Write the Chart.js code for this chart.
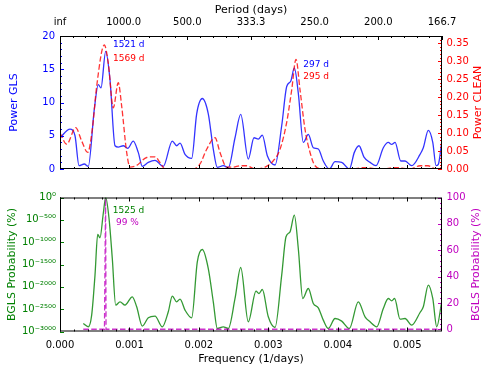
<!DOCTYPE html>
<html>
<head>
<meta charset="utf-8">
<script src="https://cdn.jsdelivr.net/npm/chart.js@4.4.1/dist/chart.umd.min.js"></script>
<style>
  html, body { margin: 0; padding: 0; background: #fff; }
  #wrap { position: relative; width: 491px; height: 372px; }
  canvas { position: absolute; left: 0; }
  #topChart { top: 0; }
  #bottomChart { top: 180px; }
</style>
</head>
<body>
<div id="wrap">
  <canvas id="topChart" width="491" height="180"></canvas>
  <canvas id="bottomChart" width="491" height="192"></canvas>
</div>
<script>
// frequencies are in units of 1e-3 1/days
const glsFreq = [0, 0.144, 0.216, 0.274, 0.350, 0.407, 0.494, 0.551, 0.590, 0.658, 0.720, 0.792, 0.839, 0.911, 0.975,
    1.055, 1.127, 1.185, 1.271, 1.368, 1.487, 1.617, 1.680, 1.728, 1.800, 1.896, 1.968, 2.049, 2.135, 2.207,
    2.265, 2.351, 2.423, 2.520, 2.602, 2.711, 2.793, 2.855, 2.913, 2.985, 3.096, 3.192, 3.264, 3.322, 3.374,
    3.431, 3.503, 3.575, 3.647, 3.719, 3.791, 3.878, 3.960, 4.056, 4.166, 4.238, 4.305, 4.377, 4.464, 4.550,
    4.655, 4.727, 4.776, 4.824, 4.906, 4.968, 5.064, 5.184, 5.231, 5.303, 5.367, 5.414, 5.447, 5.496];
const glsPower = [4.7, 6.0, 5.0, 0.5, 0.75, 0.4, 9.0, 12.7, 12.2, 17.7, 13.4, 3.5, 3.3, 3.5, 3.1,
    4.2, 2.5, 0.4, 1.0, 1.3, 0.4, 4.2, 3.5, 3.9, 2.2, 1.6, 8.3, 10.6, 8.3, 3.0,
    0.25, 0.5, 0.2, 4.7, 8.2, 1.5, 4.7, 4.5, 5.1, 2.0, 0.6, 6.5, 12.4, 13.2, 15.2,
    11.4, 4.0, 5.2, 3.2, 3.0, 1.2, 0, 1.1, 1.0, 0, 2.5, 3.5, 1.8, 1.0, 0.5,
    3.2, 4.0, 3.7, 4.0, 1.2, 1.2, 0.5, 2.2, 3.2, 5.8, 4.0, 0.5, 0.7, 4.0];

const cleanFreq = [0, 0.096, 0.226, 0.312, 0.399, 0.465, 0.528, 0.638, 0.695, 0.767, 0.839, 0.888, 0.960, 1.008, 1.104,
    1.248, 1.368, 1.440, 1.512, 1.728, 1.915, 2.016, 2.112, 2.232, 2.304, 2.400, 2.495, 2.592, 2.688, 2.808,
    2.952, 3.071, 3.168, 3.264, 3.336, 3.398, 3.456, 3.528, 3.600, 3.672, 3.791, 4.176, 4.392, 4.608, 4.848,
    5.040, 5.184, 5.299, 5.414, 5.500];
const cleanPower = [0.10, 0.069, 0.115, 0.078, 0.046, 0.11, 0.23, 0.345, 0.295, 0.17, 0.24, 0.175, 0.046, 0.005, 0.01,
    0.032, 0.034, 0.018, 0, 0, 0, 0.014, 0.055, 0.087, 0.046, 0.005, 0.005, 0.009, 0.009, 0,
    0.005, 0.023, 0.055, 0.13, 0.22, 0.305, 0.22, 0.11, 0.046, 0.009, 0, 0, 0.004, 0, 0.004,
    0, 0.009, 0.009, 0, 0.004];

const bglsFreq = [0.335, 0.407, 0.456, 0.504, 0.543, 0.576, 0.623, 0.658, 0.706, 0.753, 0.802, 0.864, 0.936, 1.041, 1.104,
    1.185, 1.271, 1.368, 1.473, 1.559, 1.617, 1.680, 1.728, 1.800, 1.896, 1.977, 2.049, 2.135, 2.207, 2.265,
    2.351, 2.423, 2.520, 2.602, 2.711, 2.822, 2.865, 2.913, 2.999, 3.096, 3.192, 3.254, 3.312, 3.374, 3.431,
    3.495, 3.575, 3.647, 3.719, 3.791, 3.863, 3.960, 4.056, 4.166, 4.295, 4.392, 4.464, 4.560, 4.655, 4.727,
    4.776, 4.818, 4.896, 4.968, 5.064, 5.184, 5.231, 5.303, 5.367, 5.424, 5.496];
// log10 of the probability
const bglsLogProb = [-2821, -2895, -2633, -1737, -828, -902, -358, 0, -470, -1366, -2409, -2335, -2409, -2223, -2447,
    -2879, -2693, -2655, -2895, -2559, -2207, -2335, -2275, -2521, -2693, -1440, -1164, -1590, -2335, -2933,
    -2895, -2933, -2261, -1567, -2783, -2096, -2149, -2060, -2671, -2910, -1737, -880, -768, -394, -1142,
    -2261, -2037, -2373, -2470, -2745, -2933, -2709, -2767, -2933, -2335, -2671, -2783, -2895, -2485, -2261,
    -2313, -2261, -2723, -2709, -2857, -2575, -2447, -1961, -2261, -2895, -2335];

const probFreq = [0.335, 0.640, 0.656, 0.663, 5.5];
const probPct = [0, 0, 99, 0, 0];

const freqTicks = [0, 1, 2, 3, 4, 5];
const freqLabels = ['0.000', '0.001', '0.002', '0.003', '0.004', '0.005'];
const periodTicks = [0, 1, 2, 3, 4, 5, 6];
const periodLabels = ['inf', '1000.0', '500.0', '333.3', '250.0', '200.0', '166.7'];
const glsTicks = [0, 5, 10, 15, 20];
const cleanTicks = [0, 0.05, 0.10, 0.15, 0.20, 0.25, 0.30, 0.35];
const logTicks = [-3000, -2500, -2000, -1500, -1000, -500, 0];
const logLabels = ['10⁻³⁰⁰⁰', '10⁻²⁵⁰⁰', '10⁻²⁰⁰⁰', '10⁻¹⁵⁰⁰', '10⁻¹⁰⁰⁰', '10⁻⁵⁰⁰', '10⁰'];
const pctTicks = [0, 20, 40, 60, 80, 100];

const topNotes = [
    { text: '1521 d', f: 0.763, v: 18.66, axis: 'y', color: '#0000ff' },
    { text: '1569 d', f: 0.763, v: 16.57, axis: 'y', color: '#ff0000' },
    { text: '297 d', f: 3.503, v: 15.67, axis: 'y', color: '#0000ff' },
    { text: '295 d', f: 3.503, v: 13.84, axis: 'y', color: '#ff0000' }
];
const bottomNotes = [
    { text: '1525 d', f: 0.759, v: -291, axis: 'yL', color: '#008000' },
    { text: '99 %', f: 0.806, v: -573, axis: 'yL', color: '#bf00bf' }
];

const BLUE = '#0000ff', RED = '#ff0000', GREEN = '#008000', MAGENTA = '#bf00bf';

Chart.defaults.font.family = '"DejaVu Sans", sans-serif';
Chart.defaults.font.size = 10;
Chart.defaults.color = '#000';

function pts(xs, ys) {
    return xs.map((x, i) => ({ x: x, y: ys[i] }));
}

function fixedTicks(values) {
    return s => { s.ticks = values.map(v => ({ value: v })); };
}

// matplotlib-like frame, inward ticks, notes and right-hand titles
const framePlugin = {
    id: 'frame',
    afterDatasetsDraw(chart, args, opts) {
        const { ctx, chartArea: a } = chart;
        ctx.save();
        ctx.lineWidth = 1;
        (opts.marks || []).forEach(m => {
            const s = chart.scales[m.scale];
            ctx.strokeStyle = m.color;
            const draw = (v, len) => {
                const p = Math.round(s.getPixelForValue(v)) + 0.5;
                ctx.beginPath();
                m.edges.forEach(e => {
                    if (e === 'bottom') { ctx.moveTo(p, a.bottom); ctx.lineTo(p, a.bottom - len); }
                    if (e === 'top') { ctx.moveTo(p, a.top); ctx.lineTo(p, a.top + len); }
                    if (e === 'left') { ctx.moveTo(a.left, p); ctx.lineTo(a.left + len, p); }
                    if (e === 'right') { ctx.moveTo(a.right, p); ctx.lineTo(a.right - len, p); }
                });
                ctx.stroke();
            };
            if (m.minor) {
                for (let k = Math.ceil(s.min / m.minor - 1e-6); k * m.minor <= s.max + 1e-9; k++) draw(k * m.minor, 2);
            }
            s.ticks.forEach(t => draw(t.value, 4));
        });
        ctx.strokeStyle = '#000';
        ctx.strokeRect(a.left + 0.5, a.top + 0.5, a.width - 1, a.height - 1);

        ctx.font = '9px "DejaVu Sans"';
        ctx.textBaseline = 'middle';
        ctx.textAlign = 'left';
        (opts.notes || []).forEach(n => {
            ctx.fillStyle = n.color;
            ctx.fillText(n.text, chart.scales.x.getPixelForValue(n.f), chart.scales[n.axis].getPixelForValue(n.v));
        });

        if (opts.rightTitle) {
            ctx.font = '11px "DejaVu Sans"';
            ctx.textAlign = 'center';
            ctx.fillStyle = opts.rightTitle.color;
            ctx.translate(opts.rightTitle.x, (a.top + a.bottom) / 2);
            ctx.rotate(-Math.PI / 2);
            ctx.fillText(opts.rightTitle.text, 0, 0);
        }
        ctx.restore();
    }
};

function lineSet(data, color, axis, dashed) {
    return {
        data: data,
        borderColor: color,
        borderWidth: 1.3,
        borderDash: dashed ? [5.5, 2.5] : [],
        pointRadius: 0,
        fill: false,
        cubicInterpolationMode: 'monotone',
        xAxisID: 'x',
        yAxisID: axis
    };
}

const common = {
    responsive: false,
    animation: false,
    events: [],
    plugins: { legend: { display: false }, tooltip: { enabled: false } }
};
const noGrid = { display: false, drawTicks: false };

new Chart(document.getElementById('topChart'), {
    type: 'line',
    data: {
        datasets: [
            lineSet(pts(cleanFreq, cleanPower), 'rgba(255,0,0,0.8)', 'y2', true),
            lineSet(pts(glsFreq, glsPower), 'rgba(0,0,255,0.8)', 'y', false)
        ]
    },
    options: Object.assign({}, common, {
        layout: { padding: 0 },
        plugins: Object.assign({}, common.plugins, {
            frame: {
                marks: [
                    { scale: 'x', edges: ['bottom'], minor: 0.2, color: '#000' },
                    { scale: 'xTop', edges: ['top'], minor: 0.2, color: '#000' },
                    { scale: 'y', edges: ['left'], minor: 1, color: BLUE },
                    { scale: 'y2', edges: ['right'], minor: 0.01, color: RED }
                ],
                notes: topNotes,
                rightTitle: { text: 'Power CLEAN', color: RED, x: 478 }
            }
        }),
        scales: {
            x: {
                type: 'linear', position: 'bottom', min: 0, max: 5.5,
                afterBuildTicks: fixedTicks(freqTicks),
                afterFit: s => { s.height = 10; },
                ticks: { display: false },
                grid: noGrid, border: { display: false }
            },
            xTop: {
                type: 'linear', position: 'top', axis: 'x', min: 0, max: 6,
                afterBuildTicks: fixedTicks(periodTicks),
                afterFit: s => { s.height = 36; },
                ticks: { padding: 7.5, maxRotation: 0, autoSkip: false, callback: (v, i) => periodLabels[i] },
                title: { display: true, text: 'Period (days)', font: { size: 11 }, padding: { top: 3.4, bottom: 0 } },
                grid: noGrid, border: { display: false }
            },
            y: {
                position: 'left', min: 0, max: 20,
                afterBuildTicks: fixedTicks(glsTicks),
                afterFit: s => { s.width = 60; },
                ticks: { color: BLUE, padding: 5 },
                title: { display: true, text: 'Power GLS', color: BLUE, font: { size: 11 }, padding: { top: 7.4, bottom: 0 } },
                grid: noGrid, border: { display: false }
            },
            y2: {
                position: 'right', min: 0, max: 0.37,
                afterBuildTicks: fixedTicks(cleanTicks),
                afterFit: s => { s.width = 49; },
                ticks: { color: RED, padding: 4.5, callback: v => v.toFixed(2) },
                grid: noGrid, border: { display: false }
            }
        }
    }),
    plugins: [framePlugin]
});

new Chart(document.getElementById('bottomChart'), {
    type: 'line',
    data: {
        datasets: [
            Object.assign(lineSet(pts(probFreq, probPct), 'rgba(191,0,191,0.8)', 'yR', true), { cubicInterpolationMode: 'default', tension: 0 }),
            lineSet(pts(bglsFreq, bglsLogProb), 'rgba(0,128,0,0.8)', 'yL', false)
        ]
    },
    options: Object.assign({}, common, {
        layout: { padding: { top: 17.5, left: 0, right: 0, bottom: 0 } },
        plugins: Object.assign({}, common.plugins, {
            frame: {
                marks: [
                    { scale: 'x', edges: ['bottom', 'top'], minor: 0.2, color: '#000' },
                    { scale: 'yL', edges: ['left'], minor: 0, color: GREEN },
                    { scale: 'yR', edges: ['right'], minor: 4, color: MAGENTA }
                ],
                notes: bottomNotes,
                rightTitle: { text: 'BGLS Probability (%)', color: MAGENTA, x: 476 }
            }
        }),
        scales: {
            x: {
                type: 'linear', position: 'bottom', min: 0, max: 5.5,
                afterBuildTicks: fixedTicks(freqTicks),
                afterFit: s => { s.height = 40.5; },
                ticks: { padding: 7.5, maxRotation: 0, autoSkip: false, callback: (v, i) => freqLabels[i] },
                title: { display: true, text: 'Frequency (1/days)', font: { size: 11 }, padding: { top: 0, bottom: 6.4 } },
                grid: noGrid, border: { display: false }
            },
            yL: {
                position: 'left', min: -3000, max: 0,
                afterBuildTicks: fixedTicks(logTicks),
                afterFit: s => { s.width = 60; },
                ticks: { color: GREEN, padding: 4, callback: (v, i) => logLabels[i] },
                title: { display: true, text: 'BGLS Probability (%)', color: GREEN, font: { size: 11 }, padding: { top: 5.4, bottom: 0 } },
                grid: noGrid, border: { display: false }
            },
            yR: {
                position: 'right', min: -1.7, max: 100,
                afterBuildTicks: fixedTicks(pctTicks),
                afterFit: s => { s.width = 49; },
                ticks: { color: MAGENTA, padding: 4.5 },
                grid: noGrid, border: { display: false }
            }
        }
    }),
    plugins: [framePlugin]
});
</script>
</body>
</html>
